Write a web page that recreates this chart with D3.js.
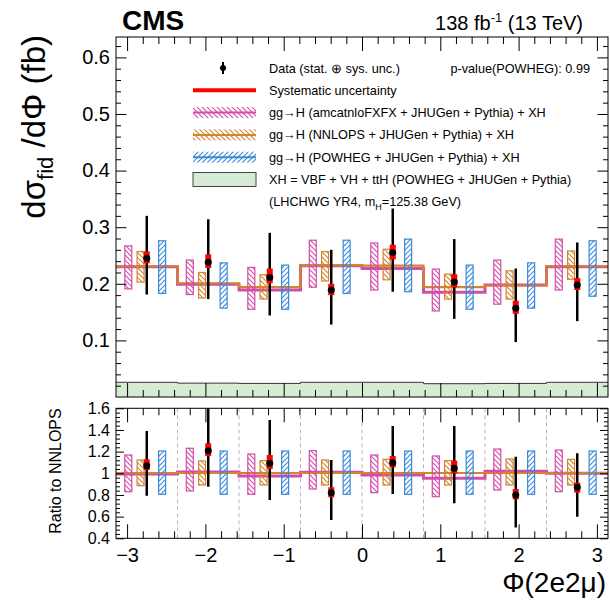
<!DOCTYPE html>
<html>
<head>
<meta charset="utf-8">
<script src="https://cdn.jsdelivr.net/npm/d3@7"></script>
<style>
  body { margin: 0; background: #fff; }
  text { font-family: "Liberation Sans", Arial, Helvetica, sans-serif; }
</style>
</head>
<body>
<div id="chart"></div>
<script>
// bin edges in Phi (8 bins of pi/4)
const phiEdges = [-3.1416, -2.3562, -1.5708, -0.7854, 0, 0.7854, 1.5708, 2.3562, 3.1416];
const xTickLabels = [-3, -2, -1, 0, 1, 2, 3];
const mainYTicks = [0.1, 0.2, 0.3, 0.4, 0.5, 0.6];
const ratioYTicks = [0.4, 0.6, 0.8, 1, 1.2, 1.4, 1.6];

// main panel, dsigma/dPhi (fb)
const dataVal = [0.245, 0.238, 0.211, 0.189, 0.255, 0.203, 0.157, 0.198];
const dataLo  = [0.181, 0.173, 0.144, 0.128, 0.186, 0.138, 0.097, 0.134];
const dataHi  = [0.320, 0.314, 0.290, 0.260, 0.333, 0.279, 0.227, 0.273];
const sysLo   = [0.236, 0.228, 0.201, 0.180, 0.243, 0.194, 0.147, 0.189];
const sysHi   = [0.257, 0.252, 0.227, 0.200, 0.269, 0.217, 0.170, 0.210];

const amcLine = [0.230, 0.199, 0.189, 0.232, 0.227, 0.185, 0.198, 0.230];
const amcLo   = [0.191, 0.181, 0.155, 0.194, 0.189, 0.152, 0.164, 0.189];
const amcHi   = [0.267, 0.242, 0.229, 0.277, 0.272, 0.226, 0.242, 0.279];
const nnlopsLine = [0.231, 0.201, 0.194, 0.233, 0.232, 0.194, 0.197, 0.231];
const nnlopsLo   = [0.203, 0.175, 0.173, 0.205, 0.207, 0.173, 0.173, 0.208];
const nnlopsHi   = [0.257, 0.220, 0.216, 0.257, 0.261, 0.217, 0.223, 0.258];
const powhegLo   = [0.183, 0.157, 0.155, 0.183, 0.186, 0.155, 0.157, 0.178];
const powhegHi   = [0.276, 0.237, 0.233, 0.277, 0.279, 0.233, 0.237, 0.276];
const xhVal      = [0.026, 0.0245, 0.024, 0.026, 0.026, 0.0235, 0.024, 0.026];

// ratio panel (to NNLOPS)
const rDataVal = [1.070, 1.209, 1.092, 0.821, 1.098, 1.046, 0.800, 0.871];
const rDataLo  = [0.793, 0.876, 0.753, 0.570, 0.809, 0.723, 0.500, 0.600];
const rDataHi  = [1.391, 1.600, 1.492, 1.123, 1.437, 1.437, 1.153, 1.185];
const rSysLo   = [1.030, 1.160, 1.040, 0.779, 1.055, 1.000, 0.760, 0.821];
const rSysHi   = [1.129, 1.277, 1.169, 0.871, 1.160, 1.117, 0.855, 0.913];
const rAmcLine = [0.994, 1.012, 0.975, 1.010, 0.984, 0.954, 1.018, 1.000];
const rAmcLo   = [0.830, 0.837, 0.806, 0.855, 0.821, 0.784, 0.846, 0.830];
const rAmcHi   = [1.169, 1.231, 1.178, 1.209, 1.169, 1.160, 1.224, 1.215];
const rNnlopsLine = [1.003, 1.003, 1.003, 1.003, 1.003, 1.003, 1.003, 1.003];
const rNnlopsLo   = [0.886, 0.892, 0.892, 0.892, 0.892, 0.892, 0.892, 0.892];
const rNnlopsHi   = [1.123, 1.114, 1.117, 1.123, 1.129, 1.117, 1.132, 1.129];
const rPowhegLo   = [0.806, 0.806, 0.806, 0.806, 0.806, 0.806, 0.806, 0.806];
const rPowhegHi   = [1.206, 1.206, 1.206, 1.206, 1.206, 1.206, 1.206, 1.206];

const legendLabels = [
  "Data (stat. \u2295 sys. unc.)",
  "Systematic uncertainty",
  "gg\u2192H (amcatnloFXFX + JHUGen + Pythia) + XH",
  "gg\u2192H (NNLOPS + JHUGen + Pythia) + XH",
  "gg\u2192H (POWHEG + JHUGen + Pythia) + XH",
  "XH = VBF + VH + ttH (POWHEG + JHUGen + Pythia)"
];

const pink = "#d24da8", orange = "#d4832f", blue = "#3a8ad8", green = "#d6ebd4";

const W = 610, H = 601;
const left = 116, right = 608;
const mainTop = 37, mainBot = 397, ratTop = 408.3, ratBot = 538.3;

const svg = d3.select("#chart").append("svg")
  .attr("width", W).attr("height", H);

const defs = svg.append("defs");
function hatch(id, color, back) {
  const p = defs.append("pattern").attr("id", id)
    .attr("patternUnits", "userSpaceOnUse").attr("width", 5).attr("height", 5);
  const d = back ? "M0,0L5,5M-1,4L1,6M4,-1L6,1" : "M0,5L5,0M-1,1L1,-1M4,6L6,4";
  p.append("path").attr("d", d).attr("stroke", color).attr("stroke-width", 1.1);
}
hatch("hPink", pink, true);
hatch("hOrange", orange, true);
hatch("hBlue", blue, false);

defs.append("clipPath").attr("id", "clipMain").append("rect")
  .attr("x", left).attr("y", mainTop).attr("width", right - left).attr("height", mainBot - mainTop);
defs.append("clipPath").attr("id", "clipRatio").append("rect")
  .attr("x", left).attr("y", ratTop).attr("width", right - left).attr("height", ratBot - ratTop);

const x = d3.scaleLinear().domain([phiEdges[0], phiEdges[8]]).range([left, right]);
const y = d3.scaleLinear().domain([0, 0.636]).range([mainBot, mainTop]);
const yr = d3.scaleLinear().domain([0.4, 1.6]).range([ratBot, ratTop]);

function stepPoints(vals) {
  const pts = [];
  vals.forEach((v, i) => { pts.push([phiEdges[i], v]); pts.push([phiEdges[i + 1], v]); });
  return pts;
}

function binX(i, frac) {
  return x(phiEdges[i] + frac * (phiEdges[i + 1] - phiEdges[i]));
}

function drawPanel(g, ys, d) {
  const line = d3.line().x(p => x(p[0])).y(p => ys(p[1]));
  g.append("path").datum(stepPoints(d.amcLine)).attr("d", line)
    .attr("fill", "none").attr("stroke", pink).attr("stroke-width", 3);
  g.append("path").datum(stepPoints(d.nnlopsLine)).attr("d", line)
    .attr("fill", "none").attr("stroke", orange).attr("stroke-width", 2.2);

  const bands = [
    { lo: d.amcLo, hi: d.amcHi, frac: 0.2, fill: "url(#hPink)", col: pink },
    { lo: d.nnlopsLo, hi: d.nnlopsHi, frac: 0.4, fill: "url(#hOrange)", col: orange },
    { lo: d.powhegLo, hi: d.powhegHi, frac: 0.75, fill: "url(#hBlue)", col: blue }
  ];
  bands.forEach(b => {
    g.selectAll(null).data(b.lo).enter().append("rect")
      .attr("x", (v, i) => binX(i, b.frac) - 3.5)
      .attr("width", 7)
      .attr("y", (v, i) => ys(b.hi[i]))
      .attr("height", (v, i) => ys(v) - ys(b.hi[i]))
      .attr("fill", b.fill).attr("stroke", b.col).attr("stroke-width", 1.2);
  });

  g.selectAll(null).data(d.val).enter().append("line")
    .attr("x1", (v, i) => binX(i, 0.5)).attr("x2", (v, i) => binX(i, 0.5))
    .attr("y1", (v, i) => ys(d.lo[i])).attr("y2", (v, i) => ys(d.hi[i]))
    .attr("stroke", "#000").attr("stroke-width", 2.5);
  g.selectAll(null).data(d.val).enter().append("rect")
    .attr("x", (v, i) => binX(i, 0.5) - 3)
    .attr("width", 6)
    .attr("y", (v, i) => ys(d.sysHi[i]))
    .attr("height", (v, i) => ys(d.sysLo[i]) - ys(d.sysHi[i]))
    .attr("fill", "#ff0000");
  g.selectAll(null).data(d.val).enter().append("circle")
    .attr("cx", (v, i) => binX(i, 0.5)).attr("cy", v => ys(v))
    .attr("r", 3.5).attr("fill", "#000");
}

// ---- main panel ----
const gMain = svg.append("g").attr("clip-path", "url(#clipMain)");
const xhPts = stepPoints(xhVal);
gMain.append("path")
  .datum([[phiEdges[0], 0]].concat(xhPts, [[phiEdges[8], 0]]))
  .attr("d", d3.line().x(p => x(p[0])).y(p => y(p[1])))
  .attr("fill", green).attr("stroke", "none");
gMain.append("path").datum(xhPts)
  .attr("d", d3.line().x(p => x(p[0])).y(p => y(p[1])))
  .attr("fill", "none").attr("stroke", "#333").attr("stroke-width", 1);

drawPanel(gMain, y, {
  amcLine, amcLo, amcHi, nnlopsLine, nnlopsLo, nnlopsHi, powhegLo, powhegHi,
  val: dataVal, lo: dataLo, hi: dataHi, sysLo, sysHi
});

// ---- ratio panel ----
const gRat = svg.append("g").attr("clip-path", "url(#clipRatio)");
gRat.selectAll(null).data(phiEdges.slice(1, 8)).enter().append("line")
  .attr("x1", v => x(v)).attr("x2", v => x(v))
  .attr("y1", ratTop).attr("y2", ratBot)
  .attr("stroke", "#b8b8b8").attr("stroke-width", 1).attr("stroke-dasharray", "4,3");
drawPanel(gRat, yr, {
  amcLine: rAmcLine, amcLo: rAmcLo, amcHi: rAmcHi,
  nnlopsLine: rNnlopsLine, nnlopsLo: rNnlopsLo, nnlopsHi: rNnlopsHi,
  powhegLo: rPowhegLo, powhegHi: rPowhegHi,
  val: rDataVal, lo: rDataLo, hi: rDataHi, sysLo: rSysLo, sysHi: rSysHi
});

// ---- axes (ROOT style, ticks inward on all sides) ----
function tickAxis(axis, tr, vals, size, fmt) {
  const a = svg.append("g").attr("transform", tr)
    .call(axis.tickValues(vals).tickSize(-size).tickPadding(fmt ? 6 : 0)
      .tickFormat(fmt || (() => "")));
  a.select(".domain").remove();
  a.selectAll("line").attr("stroke", "#000").attr("stroke-width", 1);
  return a;
}
const notInt = (v, k) => Math.abs(v * k - Math.round(v * k)) > 0.01;
const xMinor = d3.range(-3, 3.01, 0.2).filter(v => notInt(v, 1));
const yMinor = d3.range(0.02, 0.636, 0.02).filter(v => notInt(v, 10));
const yrMinor = d3.range(0.44, 1.6, 0.04).filter(v => notInt(v, 5));

[[mainTop, mainBot], [ratTop, ratBot]].forEach(([t, b]) => {
  tickAxis(d3.axisBottom(x), `translate(0,${b})`, xTickLabels, 14);
  tickAxis(d3.axisBottom(x), `translate(0,${b})`, xMinor, 7);
  tickAxis(d3.axisTop(x), `translate(0,${t})`, xTickLabels, 14);
  tickAxis(d3.axisTop(x), `translate(0,${t})`, xMinor, 7);
});

tickAxis(d3.axisLeft(y), `translate(${left},0)`, mainYTicks, 10.5, d => String(d))
  .selectAll("text").attr("font-size", 20).attr("fill", "#000");
tickAxis(d3.axisLeft(y), `translate(${left},0)`, yMinor, 5);
tickAxis(d3.axisRight(y), `translate(${right},0)`, mainYTicks, 10.5);
tickAxis(d3.axisRight(y), `translate(${right},0)`, yMinor, 5);

tickAxis(d3.axisLeft(yr), `translate(${left},0)`, ratioYTicks, 8, d => String(d))
  .selectAll("text").attr("font-size", 16).attr("fill", "#000");
tickAxis(d3.axisLeft(yr), `translate(${left},0)`, yrMinor, 4);
tickAxis(d3.axisRight(yr), `translate(${right},0)`, ratioYTicks, 8);
tickAxis(d3.axisRight(yr), `translate(${right},0)`, yrMinor, 4);

// x labels under ratio panel
const xl = svg.append("g").attr("transform", `translate(0,${ratBot})`)
  .call(d3.axisBottom(x).tickValues(xTickLabels).tickSize(0).tickPadding(10)
    .tickFormat(d => d < 0 ? "\u2212" + Math.abs(d) : String(d)));
xl.select(".domain").remove();
xl.selectAll("text").attr("font-size", 20).attr("fill", "#000");

// frames
[[mainTop, mainBot], [ratTop, ratBot]].forEach(([t, b]) => {
  svg.append("rect").attr("x", left).attr("y", t)
    .attr("width", right - left).attr("height", b - t)
    .attr("fill", "none").attr("stroke", "#000").attr("stroke-width", 1);
});

// ---- titles ----
svg.append("text").attr("x", 122).attr("y", 30)
  .attr("font-size", 28).attr("font-weight", "bold").text("CMS");

const lumi = svg.append("text").attr("x", 583).attr("y", 30)
  .attr("font-size", 20).attr("text-anchor", "end");
lumi.append("tspan").text("138 fb");
lumi.append("tspan").attr("dy", -8).attr("font-size", 13).text("-1");
lumi.append("tspan").attr("dy", 8).text(" (13 TeV)");

const yt = svg.append("text")
  .attr("transform", "translate(45,35) rotate(-90)")
  .attr("text-anchor", "end").attr("font-size", 33);
yt.append("tspan").text("d\u03c3");
yt.append("tspan").attr("dy", 8).attr("font-size", 22).text("fid");
yt.append("tspan").attr("dy", -8).text(" /d\u03a6 (fb)");

svg.append("text")
  .attr("transform", "translate(61,471) rotate(-90)")
  .attr("text-anchor", "middle").attr("font-size", 16)
  .text("Ratio to NNLOPS");

svg.append("text").attr("x", 606).attr("y", 592)
  .attr("text-anchor", "end").attr("font-size", 28)
  .text("\u03a6(2e2\u03bc)");

// ---- legend ----
const legY0 = 68, legDy = 22.3, symX0 = 193, symX1 = 256, txtX = 269, legFont = 12.7;
const leg = svg.append("g");
legendLabels.forEach((lab, i) => {
  leg.append("text").attr("x", txtX).attr("y", legY0 + i * legDy + 4.5)
    .attr("font-size", legFont).text(lab);
});
const ly = i => legY0 + i * legDy;
leg.append("line").attr("x1", 223).attr("x2", 223).attr("y1", ly(0) - 6).attr("y2", ly(0) + 6)
  .attr("stroke", "#000").attr("stroke-width", 2);
leg.append("circle").attr("cx", 223).attr("cy", ly(0)).attr("r", 3).attr("fill", "#000");
leg.append("line").attr("x1", symX0).attr("x2", symX1).attr("y1", ly(1)).attr("y2", ly(1))
  .attr("stroke", "#ff0000").attr("stroke-width", 4);
[["url(#hPink)", pink], ["url(#hOrange)", orange], ["url(#hBlue)", blue]].forEach(([f, c], k) => {
  const yy = ly(2 + k);
  leg.append("rect").attr("x", symX0).attr("y", yy - 5.5).attr("width", symX1 - symX0).attr("height", 11)
    .attr("fill", f);
  leg.append("line").attr("x1", symX0).attr("x2", symX1).attr("y1", yy).attr("y2", yy)
    .attr("stroke", c).attr("stroke-width", 2);
});
leg.append("rect").attr("x", symX0).attr("y", ly(5) - 7).attr("width", symX1 - symX0).attr("height", 14)
  .attr("fill", green).attr("stroke", "#444").attr("stroke-width", 1);

const note = leg.append("text").attr("x", txtX).attr("y", ly(6) + 4.5).attr("font-size", legFont);
note.append("tspan").text("(LHCHWG YR4, m");
note.append("tspan").attr("dy", 4).attr("font-size", 9).text("H");
note.append("tspan").attr("dy", -4).text("=125.38 GeV)");

svg.append("text").attr("x", 590).attr("y", ly(0) + 4.5)
  .attr("text-anchor", "end").attr("font-size", legFont).text("p-value(POWHEG): 0.99");
</script>
</body>
</html>
